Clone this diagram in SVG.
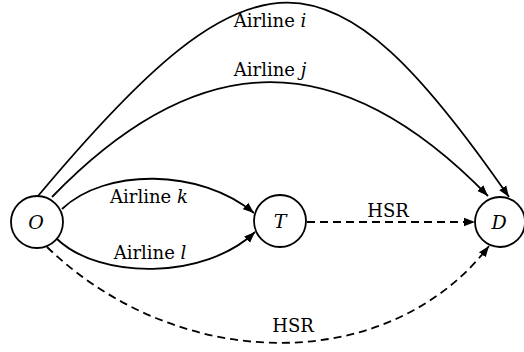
<svg xmlns="http://www.w3.org/2000/svg" width="524" height="352" viewBox="0 0 524 352">
  <style>
    .node circle { fill: #ffffff; stroke: #000000; stroke-width: 1.8; }
    .node text { font-family: "DejaVu Serif", serif; font-style: italic; font-size: 19px; text-anchor: middle; fill: #000000; }
    .edge { fill: none; stroke: #000000; stroke-width: 1.8; marker-end: url(#arrow); }
    .dashed { stroke-dasharray: 8 5; }
    .label { font-family: "DejaVu Serif", serif; font-size: 18px; text-anchor: middle; fill: #000000; }
    .v { font-style: italic; }
  </style>
  <defs>
    <marker id="arrow" markerUnits="userSpaceOnUse" markerWidth="12" markerHeight="10" refX="11" refY="5" orient="auto" viewBox="0 0 12 10">
      <path d="M0,0.8 L11,5 L0,9.2 Z" fill="#000000"/>
    </marker>
  </defs>

  <!-- connectors -->
  <g id="edges">
    <path class="edge" d="M38,196 C255,-63 330,-61 509,197"/>
    <path class="edge" d="M52,197 C200,44 340,44 488,196"/>
    <path class="edge" d="M62,209 C105,168 200,168 254,213"/>
    <path class="edge" d="M57,239 C100,280 205,280 255,232"/>
    <path class="edge dashed" d="M307,222 L475,222"/>
    <path class="edge dashed" d="M47,247 C180,375 390,375 489,246"/>
  </g>

  <!-- edge labels -->
  <g id="edge-labels">
    <text class="label" x="270" y="27">Airline <tspan class="v">i</tspan></text>
    <text class="label" x="270" y="76">Airline <tspan class="v">j</tspan></text>
    <text class="label" x="149" y="203">Airline <tspan class="v">k</tspan></text>
    <text class="label" x="150" y="259">Airline <tspan class="v">l</tspan></text>
    <text class="label" x="388" y="217">HSR</text>
    <text class="label" x="293" y="332">HSR</text>
  </g>

  <!-- nodes -->
  <g id="nodes">
    <g id="node-O" class="node">
      <circle cx="37" cy="222" r="26"/>
      <text x="36" y="229">O</text>
    </g>
    <g id="node-T" class="node">
      <circle cx="280" cy="221" r="26"/>
      <text x="280" y="228">T</text>
    </g>
    <g id="node-D" class="node">
      <circle cx="500" cy="222" r="25"/>
      <text x="499" y="229">D</text>
    </g>
  </g>
</svg>
